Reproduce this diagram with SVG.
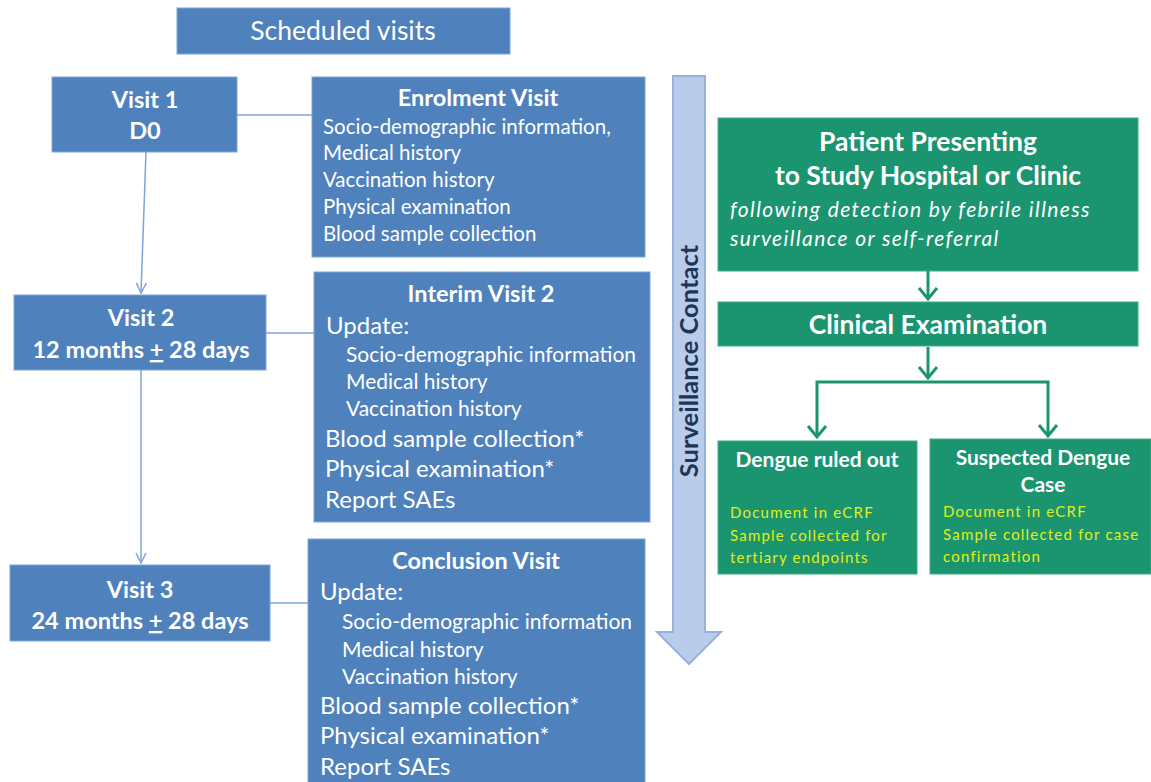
<svg xmlns="http://www.w3.org/2000/svg" width="1151" height="782" viewBox="0 0 1151 782">
<style>
.bb{fill:#4f81bd;stroke:#7ea6da;stroke-width:1}
.gb{fill:#1b9470;stroke:#3fae88;stroke-width:1}
text{font-family:Lato,"Liberation Sans",sans-serif;fill:#fff}
.t{font-size:20.5px}
.ti{font-size:21px}
.tl{font-size:24px}
.h{font-size:23.5px;font-weight:bold}
.c{text-anchor:middle}
.y{fill:#e2ef17;font-size:15px;letter-spacing:1.2px}
.bl{stroke:#7ea6da;stroke-width:1.5;fill:none}
.gl{stroke:#1b9470;stroke-width:3;fill:none}
</style>
<defs>
<marker id="ab" viewBox="0 0 12 12" refX="11" refY="6" markerWidth="12" markerHeight="12" markerUnits="userSpaceOnUse" orient="auto">
<path d="M1,1 L11,6 L1,11" fill="none" stroke="#7ea6da" stroke-width="1.5"/>
</marker>
</defs>

<g id="scheduled">
<rect class="bb" x="177" y="8" width="333" height="46"/>
<text class="c" x="343" y="40" font-size="26.5">Scheduled visits</text>
</g>

<g id="visit1">
<rect class="bb" x="52" y="77" width="185" height="75"/>
<text class="c h" x="145" y="108">Visit 1</text>
<text class="c h" x="145" y="139">D0</text>
</g>

<g id="enrolment">
<rect class="bb" x="312" y="77" width="333" height="180"/>
<text class="c h" x="478" y="106">Enrolment Visit</text>
<text class="t" x="323" y="134">Socio-demographic information,</text>
<text class="t" x="323" y="160">Medical history</text>
<text class="t" x="323" y="187">Vaccination history</text>
<text class="t" x="323" y="214">Physical examination</text>
<text class="t" x="323" y="241">Blood sample collection</text>
</g>

<g id="visit2">
<rect class="bb" x="14" y="295" width="252" height="75"/>
<text class="c h" x="141" y="326">Visit 2</text>
<text class="c h" x="141" y="358">12 months <tspan text-decoration="underline">+</tspan> 28 days</text>
</g>

<g id="interim">
<rect class="bb" x="314" y="272" width="336" height="250"/>
<text class="c h" x="481" y="302">Interim Visit 2</text>
<text class="tl" x="326" y="334">Update:</text>
<text class="ti" x="346" y="362">Socio-demographic information</text>
<text class="ti" x="346" y="389">Medical history</text>
<text class="ti" x="346" y="416">Vaccination history</text>
<text class="tl" x="325" y="447">Blood sample collection*</text>
<text class="tl" x="325" y="477">Physical examination*</text>
<text class="tl" x="325" y="508">Report SAEs</text>
</g>

<g id="visit3">
<rect class="bb" x="10" y="565" width="260" height="76"/>
<text class="c h" x="140" y="598">Visit 3</text>
<text class="c h" x="140" y="629">24 months <tspan text-decoration="underline">+</tspan> 28 days</text>
</g>

<g id="conclusion">
<rect class="bb" x="308" y="539" width="337" height="250"/>
<text class="c h" x="476" y="569">Conclusion Visit</text>
<text class="tl" x="320" y="600">Update:</text>
<text class="ti" x="342" y="629">Socio-demographic information</text>
<text class="ti" x="342" y="657">Medical history</text>
<text class="ti" x="342" y="684">Vaccination history</text>
<text class="tl" x="320" y="714">Blood sample collection*</text>
<text class="tl" x="320" y="744">Physical examination*</text>
<text class="tl" x="320" y="775">Report SAEs</text>
</g>

<g id="surveillance">
<path d="M673,76 L705,76 L705,632 L721,632 L689,664 L657,632 L673,632 Z" fill="#b9cdea" stroke="#95b3dd" stroke-width="2"/>
<text class="b c" transform="translate(698,361) rotate(-90)" font-size="25.5" font-weight="bold" style="fill:#1f3456">Surveillance Contact</text>
</g>

<g id="patient">
<rect class="gb" x="718" y="118" width="420" height="153"/>
<text class="c" x="928" y="151" font-size="26.5" font-weight="bold">Patient Presenting</text>
<text class="c" x="928" y="185" font-size="26.5" font-weight="bold">to Study Hospital or Clinic</text>
<text x="730" y="217" font-size="21" font-style="italic" letter-spacing="1.4">following detection by febrile illness</text>
<text x="730" y="246" font-size="21" font-style="italic" letter-spacing="1.4">surveillance or self-referral</text>
</g>

<g id="clinical">
<rect class="gb" x="718" y="302" width="420" height="44"/>
<text class="c" x="928" y="334" font-size="26.5" font-weight="bold">Clinical Examination</text>
</g>

<g id="ruledout">
<rect class="gb" x="718" y="441" width="199" height="133"/>
<text class="c" x="817" y="467" font-size="21" font-weight="bold">Dengue ruled out</text>
<text class="y" x="730" y="518">Document in eCRF</text>
<text class="y" x="730" y="541">Sample collected for</text>
<text class="y" x="730" y="563">tertiary endpoints</text>
</g>

<g id="suspected">
<rect class="gb" x="930" y="439" width="221" height="135"/>
<text class="c" x="1043" y="465" font-size="21" font-weight="bold">Suspected Dengue</text>
<text class="c" x="1043" y="492" font-size="21" font-weight="bold">Case</text>
<text class="y" x="943" y="517">Document in eCRF</text>
<text class="y" x="943" y="540">Sample collected for case</text>
<text class="y" x="943" y="562">confirmation</text>
</g>

<g id="connectors">
<line class="bl" x1="237" y1="115" x2="312" y2="115"/>
<line class="bl" x1="266" y1="333" x2="314" y2="333"/>
<line class="bl" x1="270" y1="603" x2="308" y2="603"/>
<path class="bl" d="M146,152 L141,293" marker-end="url(#ab)"/>
<path class="bl" d="M141,370 L141,563" marker-end="url(#ab)"/>
<path class="gl" d="M928,271 L928,299"/>
<path class="gl" d="M919,288 L928,299 L937,288"/>
<path class="gl" d="M928,347 L928,378"/>
<path class="gl" d="M919,367 L928,378 L937,367"/>
<path class="gl" d="M817,437 L817,382 L1048,382 L1048,436"/>
<path class="gl" d="M808,426 L817,437 L826,426"/>
<path class="gl" d="M1039,425 L1048,436 L1057,425"/>
</g>
</svg>
